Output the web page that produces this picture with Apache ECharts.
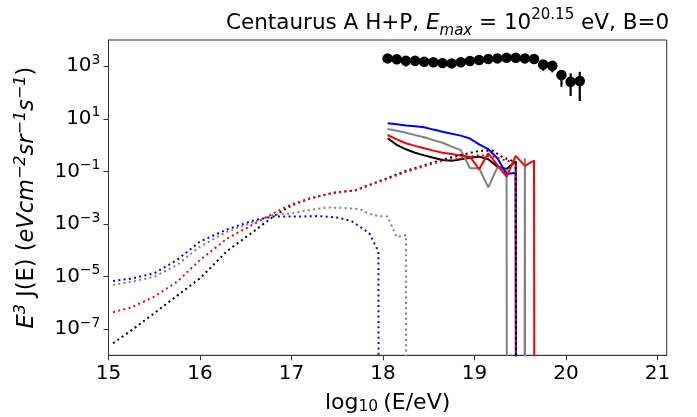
<!DOCTYPE html>
<html>
<head>
<meta charset="utf-8">
<script src="https://cdn.jsdelivr.net/npm/echarts@6/dist/echarts.min.js"></script>
<style>html,body{margin:0;padding:0;background:#fff}#c{width:697px;height:417px}</style>
</head>
<body>
<div id="c"></div>
<script>
// ---- data (y values are log10 of E^3 J(E)); -300 marks a zero (drops off the log axis) ----
const obsX = [18.05,18.15,18.25,18.35,18.45,18.55,18.65,18.75,18.85,18.95,19.05,19.15,19.25,19.35,19.45,19.55,19.65,19.75,19.85,19.95,20.05,20.15];
const obsY = [3.30,3.27,3.21,3.21,3.17,3.15,3.12,3.11,3.15,3.20,3.24,3.28,3.30,3.32,3.32,3.30,3.28,3.07,3.02,2.67,2.41,2.44];
const obsLo = [3.27,3.24,2.99,3.18,3.14,3.12,3.09,3.08,3.12,3.17,3.21,3.25,3.27,3.29,3.29,3.27,3.25,2.83,2.77,2.22,1.87,1.68];
const obsHi = [3.33,3.30,3.25,3.24,3.20,3.18,3.15,3.14,3.18,3.23,3.27,3.31,3.33,3.35,3.35,3.33,3.31,3.21,3.17,2.86,2.73,2.79];

const solidX = [18.05,18.15,18.25,18.35,18.45,18.55,18.65,18.75,18.85,18.95,19.05,19.15,19.25,19.35,19.45,19.55,19.65,19.75];
const blackSolid = [0.26,0.01,-0.16,-0.29,-0.39,-0.48,-0.57,-0.60,-0.54,-0.48,-0.44,-0.54,-0.82,-0.91,-0.62,-300];
const graySolid  = [0.61,0.55,0.47,0.38,0.30,0.19,0.09,-0.06,-0.19,-0.88,-0.88,-1.61,-0.85,-0.95,-300,-0.50,-300];
const blueSolid  = [0.83,0.79,0.75,0.72,0.68,0.59,0.51,0.43,0.36,0.25,0.03,-0.15,-0.50,-1.10,-1.05,-300];
const redSolid   = [0.385,0.22,0.07,-0.03,-0.12,-0.21,-0.29,-0.34,-0.40,-0.44,-0.92,-0.31,-0.76,-1.20,-0.41,-0.79,-0.59,-300];

const blackDotX = [15.05,15.25,15.5,15.75,16.0,16.3,16.6,16.8,17.0,17.2,17.45,17.7,17.85,18.05,18.25,18.45,18.65,18.85,19.05,19.2,19.3,19.45,19.55];
const blackDot  = [-7.54,-7.05,-6.40,-5.73,-5.07,-4.02,-3.25,-2.72,-2.30,-2.03,-1.82,-1.72,-1.52,-1.25,-0.98,-0.77,-0.55,-0.38,-0.22,-0.21,-0.45,-0.65,-300];
const redDotX   = [15.05,15.25,15.5,15.75,16.0,16.3,16.6,16.8,17.0,17.2,17.45,17.7,17.85,18.05,18.25,18.45,18.65,18.85,19.05,19.2,19.3,19.45,19.55];
const redDot    = [-6.36,-6.18,-5.77,-5.20,-4.37,-3.55,-2.98,-2.60,-2.25,-2.03,-1.82,-1.72,-1.52,-1.28,-1.02,-0.80,-0.60,-0.50,-0.38,-0.44,-0.54,-0.68,-300];
const blueDotX  = [15.05,15.25,15.5,15.75,16.0,16.3,16.6,16.8,17.05,17.3,17.5,17.65,17.85,17.95,18.05];
const blueDot   = [-5.17,-5.08,-4.88,-4.37,-3.67,-3.20,-2.85,-2.72,-2.72,-2.70,-2.76,-2.88,-3.35,-4.05,-300];
const grayDotX  = [15.05,15.25,15.5,15.75,16.0,16.3,16.6,16.8,17.0,17.2,17.4,17.6,17.75,17.85,17.95,18.05,18.15,18.25,18.35];
const grayDot   = [-5.32,-5.20,-5.01,-4.56,-3.86,-3.29,-2.91,-2.66,-2.60,-2.47,-2.37,-2.40,-2.44,-2.62,-2.70,-2.72,-3.50,-3.42,-300];

const xTicks = [15,16,17,18,19,20,21];
const yTicks = [-7,-5,-3,-1,1,3];

const FONT = 'DejaVu Sans';
const pair = (xs, ys) => ys.map((y, i) => [xs[i], y]);
const solid = (name, color, xs, ys) => ({
  name, type: 'line', data: pair(xs, ys), showSymbol: false, symbol: 'none', clip: true,
  lineStyle: { color, width: 2 }, z: 2
});
const dotted = (name, color, xs, ys) => ({
  name, type: 'line', data: pair(xs, ys), showSymbol: false, symbol: 'none', clip: true,
  lineStyle: { color, width: 2, type: [2, 3.3], cap: 'butt' }, z: 3
});
const txt = (extra) => Object.assign({ fontFamily: FONT, color: '#000', fontWeight: 'normal' }, extra);

const chart = echarts.init(document.getElementById('c'), null, { renderer: 'canvas' });
chart.setOption({
  animation: false,
  backgroundColor: '#fff',
  title: {
    text: '{n|Centaurus A H+P, }{i|E}{sub|max}{n| = 10}{sup|20.15}{n| eV, B=0}',
    left: 221, top: 3,
    textStyle: {
      fontWeight: 'normal',
      rich: {
        n: txt({ fontSize: 21.5, lineHeight: 31 }),
        i: txt({ fontSize: 21.5, fontStyle: 'italic', lineHeight: 31 }),
        sub: txt({ fontSize: 15, fontStyle: 'italic', lineHeight: 15, verticalAlign: 'bottom' }),
        sup: txt({ fontSize: 15, lineHeight: 15, verticalAlign: 'top' })
      }
    }
  },
  grid: { left: 108.5, right: 30.3, top: 40, bottom: 61.7, containLabel: false, outerBoundsMode: 'none',
          show: true, borderColor: '#333', borderWidth: 1, backgroundColor: 'transparent' },
  xAxis: {
    type: 'value', min: 15, max: 21.1,
    name: '{n|log}{sub|10}{n|(E/eV)}', nameLocation: 'middle', nameGap: 36,
    nameTextStyle: {
      rich: {
        n: txt({ fontSize: 22, lineHeight: 24 }),
        sub: txt({ fontSize: 15.5, lineHeight: 15, verticalAlign: 'bottom', padding: [0, 5, 0, 0] })
      }
    },
    axisLine: { show: true, onZero: false, lineStyle: { color: '#333', width: 1 } },
    axisTick: { show: true, length: 5, inside: false, customValues: xTicks, lineStyle: { color: '#333' } },
    axisLabel: { customValues: xTicks, margin: 8, fontFamily: FONT, fontSize: 20, color: '#000' },
    splitLine: { show: false }
  },
  yAxis: {
    type: 'value', min: -8, max: 4,
    name: '{i|E}{sup|3}{n| J(E) (}{i|eVcm}{sup|−2}{i|sr}{sup|−1}{i|s}{sup|−1}{n|)}',
    nameLocation: 'middle', nameRotate: 90, nameGap: 66,
    nameTextStyle: {
      rich: {
        n: txt({ fontSize: 22.5, lineHeight: 30 }),
        i: txt({ fontSize: 22.5, fontStyle: 'italic', lineHeight: 30 }),
        sup: txt({ fontSize: 16, fontStyle: 'italic', lineHeight: 16, verticalAlign: 'top' })
      }
    },
    axisLine: { show: true, onZero: false, lineStyle: { color: '#333', width: 1 } },
    axisTick: { show: true, length: 5, inside: false, customValues: yTicks, lineStyle: { color: '#333' } },
    axisLabel: {
      customValues: yTicks, margin: 8,
      formatter: v => '{b|10}{s|' + (v < 0 ? '−' + (-v) : v) + '}',
      rich: {
        b: txt({ fontSize: 20, lineHeight: 26 }),
        s: txt({ fontSize: 14, lineHeight: 14, verticalAlign: 'top' })
      }
    },
    splitLine: { show: false }
  },
  series: [
    solid('black solid', '#000000', solidX, blackSolid),
    solid('gray solid', '#808080', solidX, graySolid),
    solid('blue solid', '#0000ff', solidX, blueSolid),
    solid('red solid', '#ff0000', solidX, redSolid),
    dotted('black dotted', '#000000', blackDotX, blackDot),
    dotted('gray dotted', '#808080', grayDotX, grayDot),
    dotted('blue dotted', '#0000ff', blueDotX, blueDot),
    dotted('red dotted', '#ff0000', redDotX, redDot),
    {
      name: 'errors', type: 'custom', z: 4,
      data: obsX.map((x, i) => [x, obsLo[i], obsHi[i]]),
      renderItem: (params, api) => {
        const a = api.coord([api.value(0), api.value(1)]);
        const b = api.coord([api.value(0), api.value(2)]);
        return { type: 'line', shape: { x1: a[0], y1: a[1], x2: b[0], y2: b[1] }, style: { stroke: '#000', lineWidth: 2.2 } };
      }
    },
    {
      name: 'data', type: 'scatter', z: 5, symbol: 'circle', symbolSize: 10.5,
      itemStyle: { color: '#000', opacity: 1 },
      data: pair(obsX, obsY)
    }
  ]
});
</script>
</body>
</html>
